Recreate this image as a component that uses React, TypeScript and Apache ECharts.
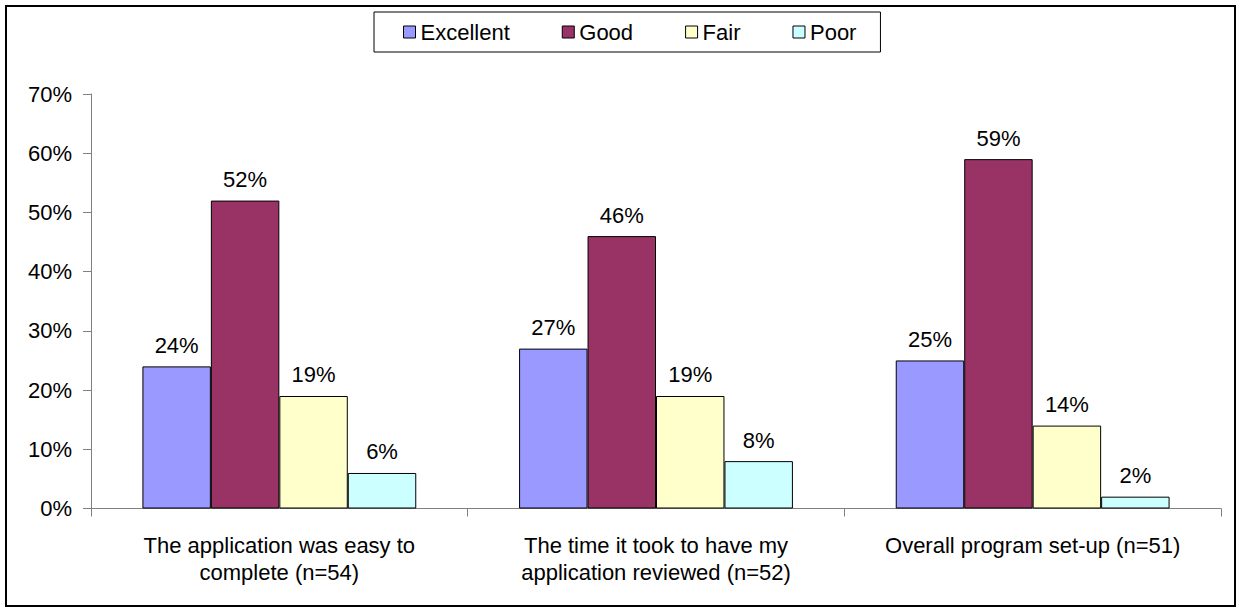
import React, { useEffect, useRef } from "react";
import * as echarts from "echarts";

const categories = [
  "The application was easy to\ncomplete (n=54)",
  "The time it took to have my\napplication reviewed (n=52)",
  "Overall program set-up (n=51)",
];
const seriesNames = ["Excellent", "Good", "Fair", "Poor"];
const excellent = [24, 27, 25];
const good = [52, 46, 59];
const fair = [19, 19, 14];
const poor = [6, 8, 2];
const yTicks = { min: 0, max: 70, interval: 10 };

const colors = ["#9999FF", "#993366", "#FFFFCC", "#CCFFFF"];
const FONT = "'Liberation Sans', Arial, sans-serif";

export default function App() {
  const ref = useRef<HTMLDivElement>(null);
  useEffect(() => {
    if (!ref.current) return;
    const chart = echarts.init(ref.current, null, { renderer: "svg" });
    const values = [excellent, good, fair, poor];
    chart.setOption({
      animation: false,
      backgroundColor: "#ffffff",
      textStyle: { fontFamily: FONT, color: "#000" },
      graphic: [
        {
          type: "rect",
          shape: { x: 6, y: 6, width: 1229, height: 600 },
          style: { fill: "none", stroke: "#000", lineWidth: 2 },
          silent: true,
        },
      ],
      legend: {
        left: 374,
        top: 12,
        orient: "horizontal",
        data: seriesNames,
        icon: "rect",
        itemWidth: 12,
        itemHeight: 12,
        itemGap: 52,
        itemTextGap: 10,
        padding: [9, 24, 9, 29],
        borderColor: "#000",
        borderWidth: 1,
        backgroundColor: "#fff",
        textStyle: { fontSize: 22, fontFamily: FONT, color: "#000" },
        itemStyle: { borderColor: "#000", borderWidth: 1 },
      },
      grid: {
        left: 91,
        right: 15,
        top: 94,
        bottom: 100.5,
        containLabel: false,
        outerBoundsMode: "none",
      },
      xAxis: {
        type: "category",
        data: categories,
        axisLine: { lineStyle: { color: "#808080", width: 1 } },
        axisTick: {
          show: true,
          alignWithLabel: false,
          length: 8,
          lineStyle: { color: "#808080" },
        },
        axisLabel: {
          interval: 0,
          margin: 23,
          fontSize: 22,
          lineHeight: 27,
          color: "#000",
          fontFamily: FONT,
        },
        splitLine: { show: false },
      },
      yAxis: {
        type: "value",
        min: yTicks.min,
        max: yTicks.max,
        interval: yTicks.interval,
        axisLine: { show: true, lineStyle: { color: "#808080", width: 1 } },
        axisTick: { show: true, length: 8, lineStyle: { color: "#808080" } },
        axisLabel: {
          formatter: "{value}%",
          fontSize: 22,
          margin: 19,
          color: "#000",
          fontFamily: FONT,
        },
        splitLine: { show: false },
      },
      series: seriesNames.map((name, i) => ({
        name,
        type: "bar",
        data: values[i],
        barGap: "0%",
        barCategoryGap: "27.3%",
        itemStyle: { color: colors[i], borderColor: "#000", borderWidth: 1 },
        label: {
          show: true,
          position: "top",
          distance: 10,
          formatter: "{c}%",
          fontSize: 22,
          color: "#000",
          fontFamily: FONT,
        },
      })),
    });
    return () => chart.dispose();
  }, []);
  return (
    <div
      ref={ref}
      style={{ position: "absolute", left: 0, top: 0, width: 1236, height: 609 }}
    />
  );
}
